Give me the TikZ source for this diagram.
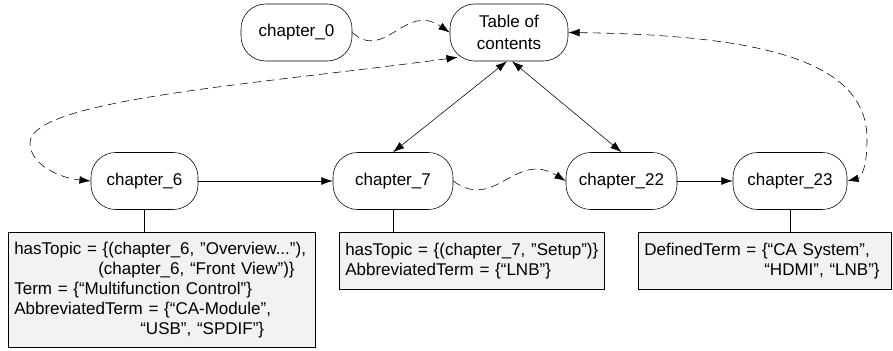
\documentclass[tikz,border=0pt]{standalone}
\usepackage{fontspec}
\setmainfont{Liberation Sans}
\usetikzlibrary{arrows.meta}

\begin{document}
\begin{tikzpicture}[x=0.025cm, y=-0.025cm, >={Latex[length=8pt,width=5.5pt]},
  chapnode/.style={draw, rounded corners=0.62cm, minimum height=1.425cm, align=center, inner sep=1pt,
    font=\fontsize{12.1}{15.5}\selectfont},
  infobox/.style={draw, fill=boxgray, anchor=north west, align=left, inner xsep=0.15cm, inner ysep=2pt,
    font=\fontsize{12.1}{14.2}\selectfont},
  dashlink/.style={dashed, dash pattern=on 6pt off 3.5pt}]

\definecolor{boxgray}{RGB}{242, 242, 242}

\useasboundingbox (0,0) rectangle (893,350);

\node[chapnode, minimum width=2.775cm] (ch0) at (296.5,32.5) {chapter\_0};
\node[chapnode, minimum width=2.95cm] (toc) at (509,32.5) {Table of\\contents};
\node[chapnode, minimum width=2.675cm] (ch6) at (144.5,181) {chapter\_6};
\node[chapnode, minimum width=3.0cm] (ch7) at (393,181) {chapter\_7};
\node[chapnode, minimum width=2.775cm] (ch22) at (621.5,181) {chapter\_22};
\node[chapnode, minimum width=2.85cm] (ch23) at (790,181) {chapter\_23};

\node[infobox, text width=7.375cm, minimum height=2.875cm] (box6) at (8,232) {%
\mbox{hasTopic = \{(chapter\_6, ”Overview...”),}\\
\mbox{\hspace*{2.1cm}(chapter\_6, “Front View”)\}}\\
\mbox{Term = \{“Multifunction Control”\}}\\
\mbox{AbbreviatedTerm = \{“CA-Module”,}\\
\mbox{\hspace*{3.15cm}“USB”, “SPDIF”\}}};
\node[infobox, text width=6.325cm, minimum height=1.425cm] (box7) at (339,232) {%
\mbox{hasTopic = \{(chapter\_7, ”Setup”)\}}\\
\mbox{AbbreviatedTerm = \{“LNB”\}}};
\node[infobox, text width=6.025cm, minimum height=1.425cm] (box23) at (638,232) {%
\mbox{DefinedTerm = \{“CA System”,}\\
\mbox{\hspace*{3.0cm}“HDMI”, “LNB”\}}};

\draw (ch6.south) -- (ch6.south |- box6.north);
\draw (ch7.south) -- (ch7.south |- box7.north);
\draw (ch23.south) -- (ch23.south |- box23.north);

\draw[->] (ch6.east) -- (ch7.west);
\draw[->] (ch22.east) -- (ch23.west);
\draw[<->] ([shift={(-2,0)}]toc.south) -- (ch7.north);
\draw[<->] ([shift={(3,0)}]toc.south) -- (ch22.north);

\draw[dashlink, ->] (ch0.east) .. controls (385,62) and (405,2) .. (toc.west);
\draw[dashlink, ->] (ch7.east) .. controls (495,212) and (515,150) .. (ch22.west);
\draw[dashlink, <->] ([shift={(8,-4)}]toc.south west) .. controls (250,85) and (30,100) .. (30,143)
  .. controls (30,165) and (60,178) .. (ch6.west);
\draw[dashlink, <->] (toc.east) .. controls (760,35) and (868,60) .. (867,140)
  .. controls (867,170) and (860,178) .. (ch23.east);

\end{tikzpicture}
\end{document}
